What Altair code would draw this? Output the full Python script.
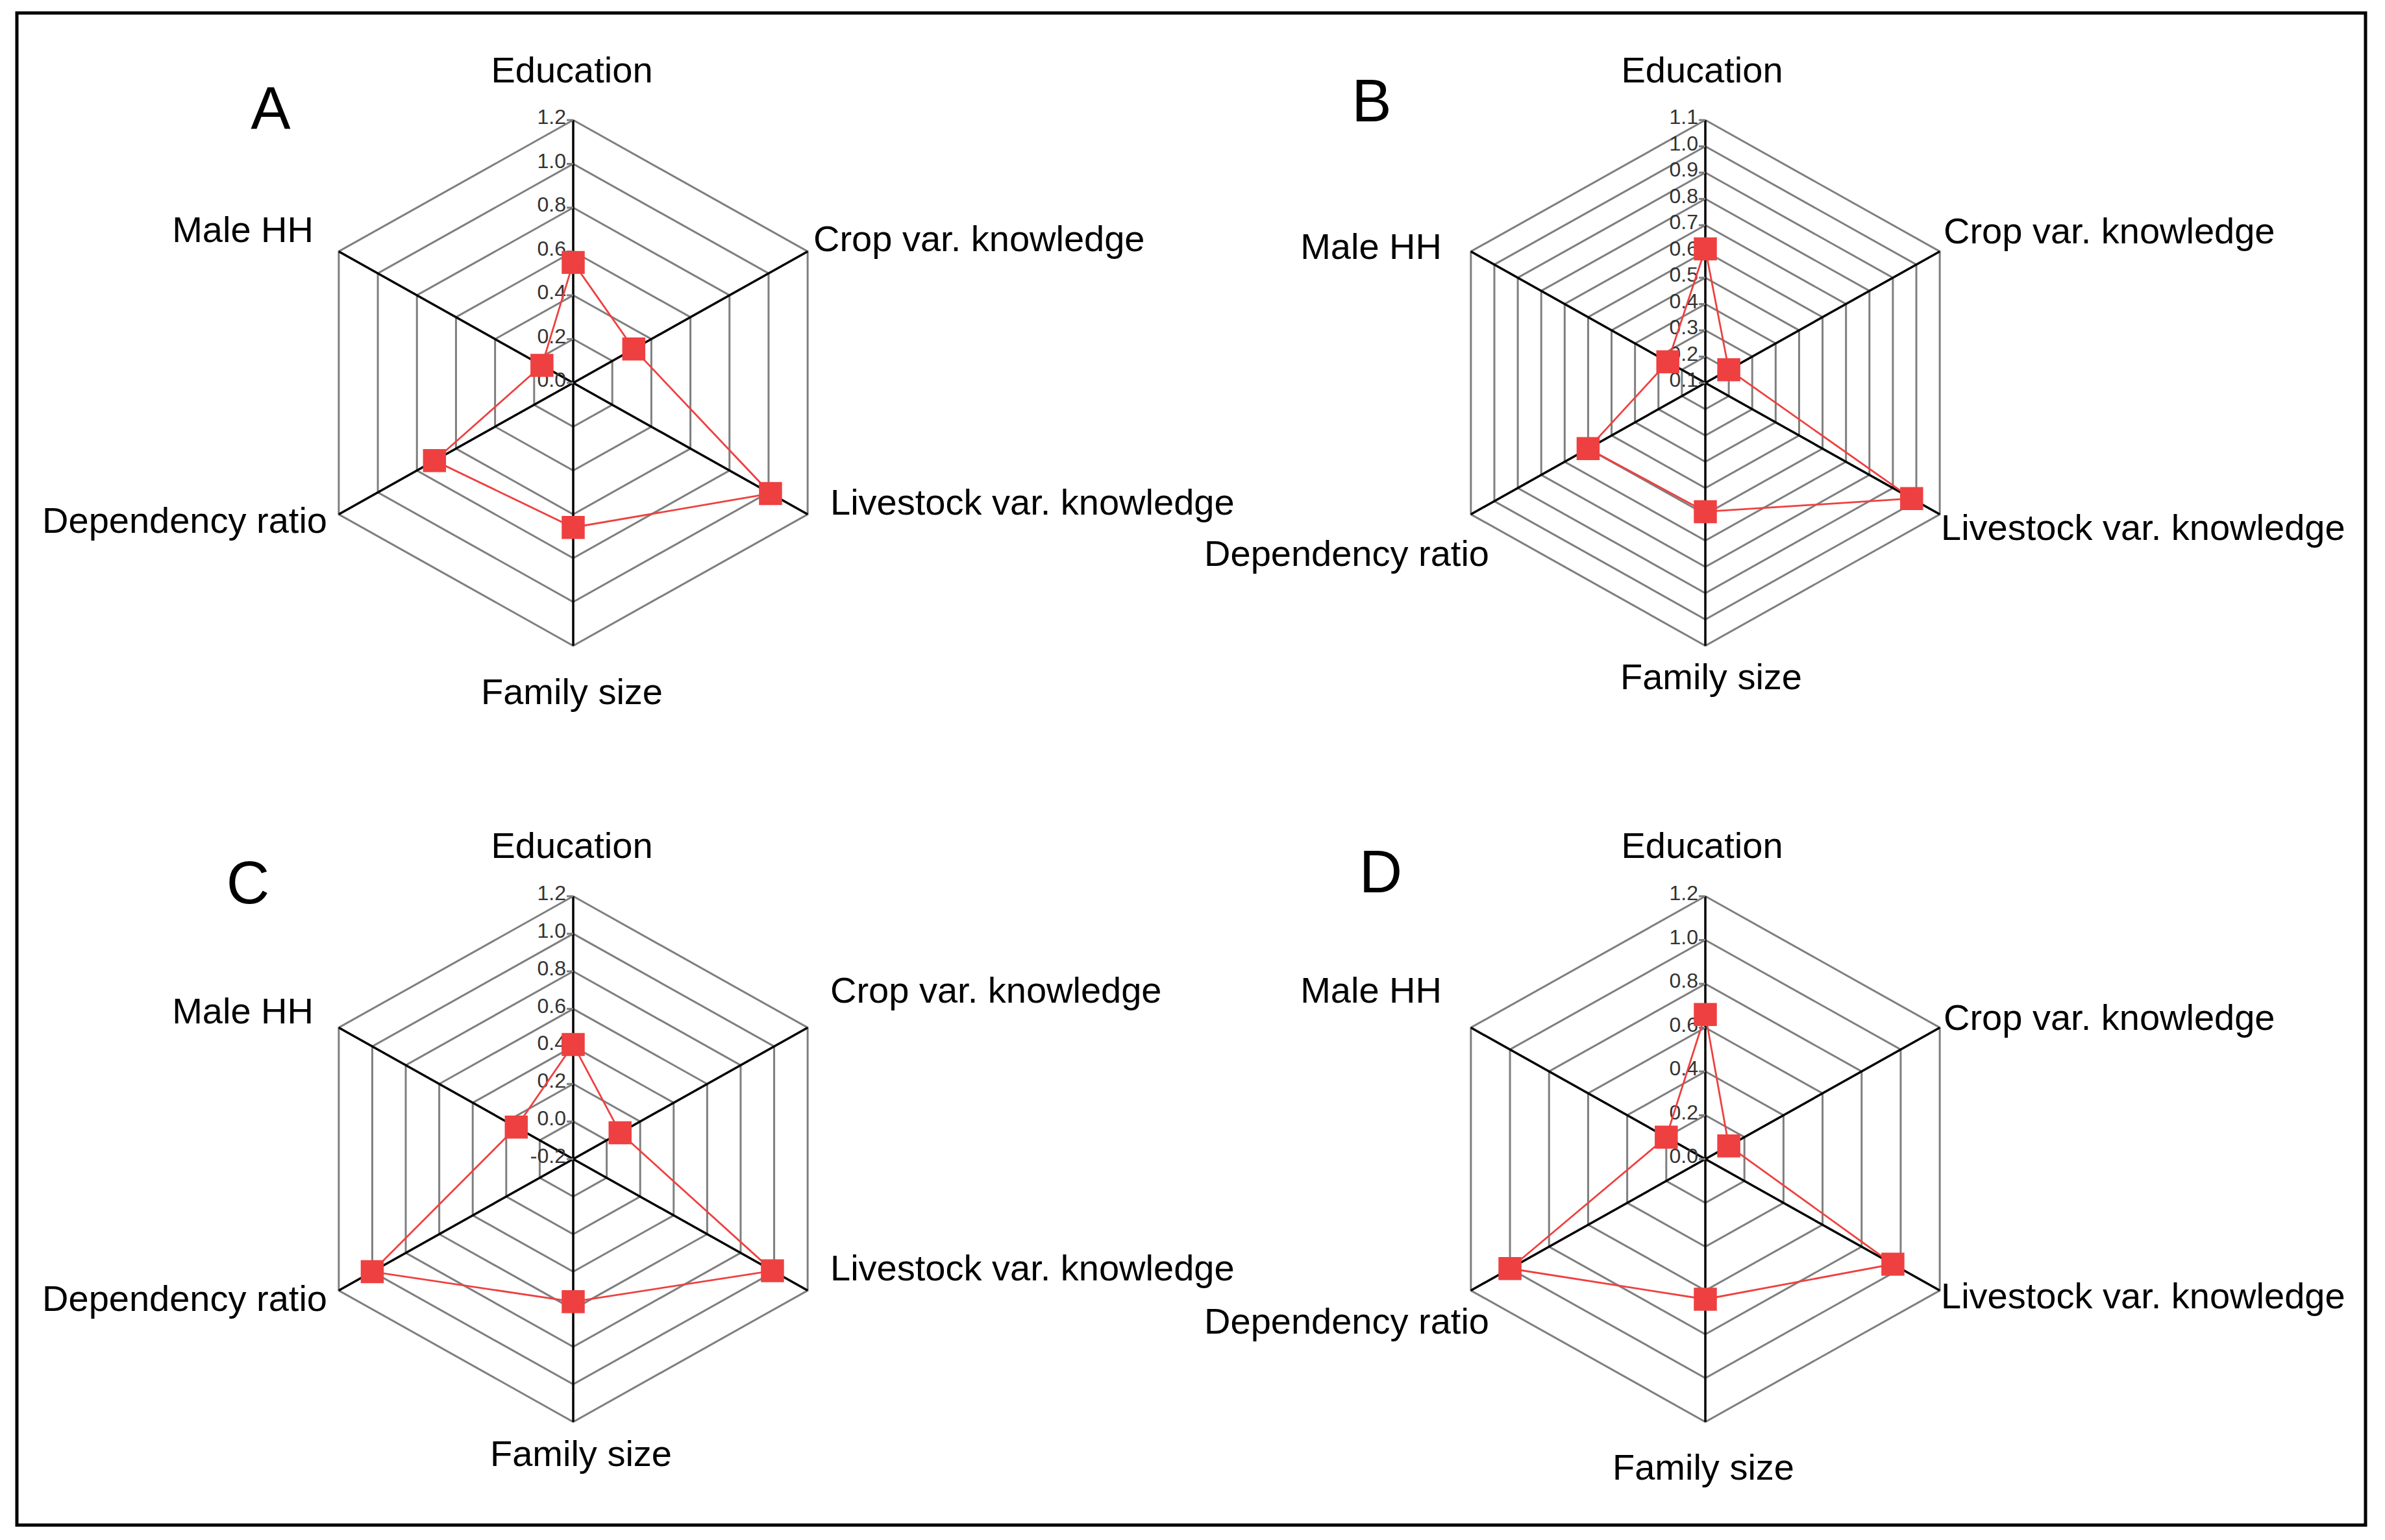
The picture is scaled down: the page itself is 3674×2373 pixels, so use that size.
import altair as alt
import pandas as pd

# ---------------- data ----------------
categories = ["Education", "Crop var. knowledge", "Livestock var. knowledge",
              "Family size", "Dependency ratio", "Male HH"]
panels = ["A", "B", "C", "D"]

values_A = [0.55, 0.31, 1.01, 0.66, 0.71, 0.16]
values_B = [0.61, 0.20, 0.98, 0.59, 0.60, 0.26]
values_C = [0.41, 0.08, 0.99, 0.56, 1.00, 0.14]
values_D = [0.66, 0.12, 0.96, 0.64, 1.00, 0.20]

ticks_A = [0.0, 0.2, 0.4, 0.6, 0.8, 1.0, 1.2]
ticks_B = [0.1, 0.2, 0.3, 0.4, 0.5, 0.6, 0.7, 0.8, 0.9, 1.0, 1.1]
ticks_C = [-0.2, 0.0, 0.2, 0.4, 0.6, 0.8, 1.0, 1.2]
ticks_D = [0.0, 0.2, 0.4, 0.6, 0.8, 1.0, 1.2]

tick_labels_A = ["0.0", "0.2", "0.4", "0.6", "0.8", "1.0", "1.2"]
tick_labels_B = ["0.1", "0.2", "0.3", "0.4", "0.5", "0.6", "0.7", "0.8", "0.9", "1.0", "1.1"]
tick_labels_C = ["-0.2", "0.0", "0.2", "0.4", "0.6", "0.8", "1.0", "1.2"]
tick_labels_D = ["0.0", "0.2", "0.4", "0.6", "0.8", "1.0", "1.2"]

series = {"A": values_A, "B": values_B, "C": values_C, "D": values_D}
ticks = {"A": ticks_A, "B": ticks_B, "C": ticks_C, "D": ticks_D}
tick_labels = {"A": tick_labels_A, "B": tick_labels_B, "C": tick_labels_C, "D": tick_labels_D}

# ---------------- layout (pixels) ----------------
CENTERS = {"A": (883, 590), "B": (2627, 590), "C": (883, 1786), "D": (2627, 1786)}
RX, RY = 417, 405
# label anchor offsets from panel centre, per category (dx, dy)
LABEL_OFFSETS = {
    "A": [(-2, -480), (370, -220), (396, 186), (-2, 478), (-379, 214), (-400, -234)],
    "B": [(-5, -480), (367, -232), (363, 225), (9, 455), (-333, 265), (-406, -208)],
    "C": [(-2, -481), (396, -258), (396, 170), (12, 456), (-379, 217), (-400, -226)],
    "D": [(-5, -481), (367, -216), (363, 213), (-3, 477), (-333, 252), (-406, -258)],
}
LABEL_ALIGN = ["center", "left", "left", "center", "right", "right"]
LETTER_OFFSETS = {"A": (-466, -419), "B": (-514, -431), "C": (-501, -422), "D": (-500, -439)}

FONT = "Liberation Sans"
RED = "#EE4040"
GRAY = "#7F7F7F"

# ---------------- tables ----------------
def panel_info(p):
    return {"panel": p, "cx": CENTERS[p][0], "cy": CENTERS[p][1],
            "vmin": ticks[p][0], "vmax": ticks[p][-1]}

pts, rings, spokes, tlab, clab, letters = [], [], [], [], [], []
for p in panels:
    info = panel_info(p)
    vals = series[p]
    for k in range(7):
        kk = k % 6
        pts.append({**info, "k": k, "cat": categories[kk], "value": vals[kk], "marker": k < 6})
    for t in ticks[p][1:]:
        for k in range(7):
            rings.append({**info, "ring": f"{p}{t}", "tick": t, "k": k})
    for k in range(6):
        spokes.append({**info, "k": k})
    for t, lab in zip(ticks[p], tick_labels[p]):
        tlab.append({**info, "tick": t, "label": lab})
    for k, c in enumerate(categories):
        dx, dy = LABEL_OFFSETS[p][k]
        clab.append({**info, "cat": c, "dx": dx, "dy": dy, "align": LABEL_ALIGN[k]})
    dx, dy = LETTER_OFFSETS[p]
    letters.append({**info, "dx": dx, "dy": dy})

pts = pd.DataFrame(pts)
rings = pd.DataFrame(rings)
spokes = pd.DataFrame(spokes)
tlab = pd.DataFrame(tlab)
clab = pd.DataFrame(clab)
letters = pd.DataFrame(letters)

W, H = 3618, 2330
X0, Y0 = 26, 20
xs = alt.Scale(domain=[X0, X0 + W], nice=False, zero=False)
ys = alt.Scale(domain=[Y0, Y0 + H], reverse=True, nice=False, zero=False)

def X(f):
    return alt.X(f"{f}:Q", scale=xs, axis=None)

def Y(f):
    return alt.Y(f"{f}:Q", scale=ys, axis=None)

px_expr = f"datum.cx + datum.rn * {RX} * sin(datum.k * PI / 3)"
py_expr = f"datum.cy - datum.rn * {RY} * cos(datum.k * PI / 3)"

ring_layer = alt.Chart(rings).transform_calculate(
    rn="(datum.tick - datum.vmin) / (datum.vmax - datum.vmin)"
).transform_calculate(px=px_expr, py=py_expr).mark_line(
    color=GRAY, strokeWidth=3
).encode(x=X("px"), y=Y("py"), detail="ring:N", order="k:Q")

spoke_layer = alt.Chart(spokes).transform_calculate(
    rn="1"
).transform_calculate(
    px="datum.cx", py="datum.cy", px2=px_expr, py2=py_expr
).mark_rule(color="black", strokeWidth=3.5).encode(
    x=X("px"), y=Y("py"), x2="px2:Q", y2="py2:Q"
)

tick_rule_layer = alt.Chart(tlab).transform_calculate(
    rn="(datum.tick - datum.vmin) / (datum.vmax - datum.vmin)"
).transform_calculate(
    px="datum.cx - 10", px2="datum.cx", py=f"datum.cy - datum.rn * {RY}"
).mark_rule(color=GRAY, strokeWidth=3).encode(
    x=X("px"), x2="px2:Q", y=Y("py")
)

tick_text_layer = alt.Chart(tlab).transform_calculate(
    rn="(datum.tick - datum.vmin) / (datum.vmax - datum.vmin)"
).transform_calculate(
    px="datum.cx - 11", py=f"datum.cy - datum.rn * {RY} - 4"
).mark_text(
    align="right", baseline="middle", font=FONT, fontSize=32, color="#333333"
).encode(x=X("px"), y=Y("py"), text="label:N")

data_line = alt.Chart(pts).transform_calculate(
    rn="(datum.value - datum.vmin) / (datum.vmax - datum.vmin)"
).transform_calculate(px=px_expr, py=py_expr).mark_line(
    color=RED, strokeWidth=2.8
).encode(x=X("px"), y=Y("py"), detail="panel:N", order="k:Q")

markers = alt.Chart(pts).transform_filter("datum.marker").transform_calculate(
    rn="(datum.value - datum.vmin) / (datum.vmax - datum.vmin)"
).transform_calculate(px=px_expr, py=py_expr).mark_square(
    color=RED, size=1260, opacity=1, filled=True
).encode(x=X("px"), y=Y("py"))

cat_layers = []
for a in ["left", "center", "right"]:
    cat_layers.append(
        alt.Chart(clab).transform_filter(f"datum.align == '{a}'").transform_calculate(
            px="datum.cx + datum.dx", py="datum.cy + datum.dy"
        ).mark_text(
            align=a, baseline="middle", font=FONT, fontSize=56, color="black"
        ).encode(x=X("px"), y=Y("py"), text="cat:N")
    )

letter_layer = alt.Chart(letters).transform_calculate(
    px="datum.cx + datum.dx", py="datum.cy + datum.dy"
).mark_text(
    align="center", baseline="middle", font=FONT, fontSize=92, color="black"
).encode(x=X("px"), y=Y("py"), text="panel:N")

chart = alt.layer(
    ring_layer, spoke_layer, tick_rule_layer, tick_text_layer,
    data_line, markers, *cat_layers, letter_layer
).properties(
    width=W, height=H,
    background="white",
    autosize=alt.AutoSizeParams(type="none"),
    padding={"left": 18, "top": 12, "right": 10, "bottom": 10},
).configure_view(stroke="black", strokeWidth=5, strokeOpacity=1)

chart.save("out.html", embed_options={"renderer": "svg", "actions": False})
